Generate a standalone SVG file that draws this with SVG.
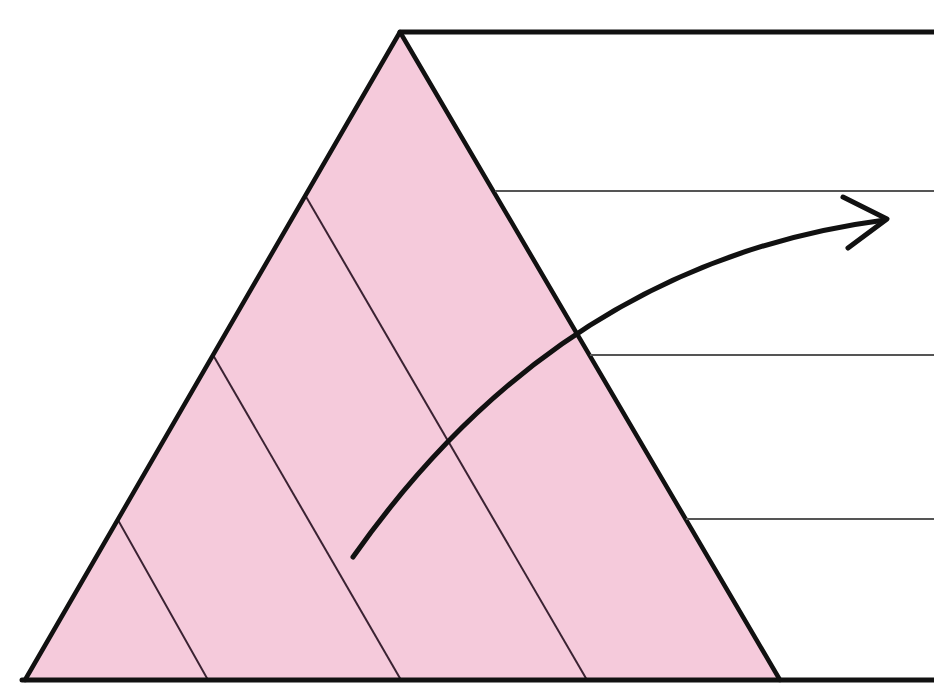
<svg xmlns="http://www.w3.org/2000/svg" width="934" height="684" viewBox="0 0 934 684">
<style>
.thin{stroke:#555;stroke-width:2;fill:none}
.inner{stroke:#3a2232;stroke-width:2;fill:none}
.thick{stroke:#111;stroke-width:5;fill:none;stroke-linecap:round;stroke-linejoin:round}
</style>
<rect width="934" height="684" fill="#fff"/>
<g id="triangle">
<polygon points="400,32 25,680 780,680" fill="#f5cadb"/>
<line class="inner" x1="305" y1="195" x2="587" y2="680"/>
<line class="inner" x1="213" y1="355" x2="401" y2="680"/>
<line class="inner" x1="118" y1="520" x2="208" y2="680"/>
<polyline class="thick" points="25,680 400,32 780,680" style="stroke-width:4.5"/>
</g>
<g id="lines">
<line class="thick" x1="400" y1="32" x2="934" y2="32"/>
<line class="thin" x1="495" y1="191" x2="934" y2="191"/>
<line class="thin" x1="590" y1="355" x2="934" y2="355"/>
<line class="thin" x1="686" y1="519" x2="934" y2="519"/>
<line class="thick" x1="22" y1="680" x2="934" y2="680"/>
</g>
<g id="connectors">
<path class="thick" d="M353,557 Q561,262 885,220"/>
<polyline class="thick" points="843,197 887,219 848,248"/>
</g>
</svg>
